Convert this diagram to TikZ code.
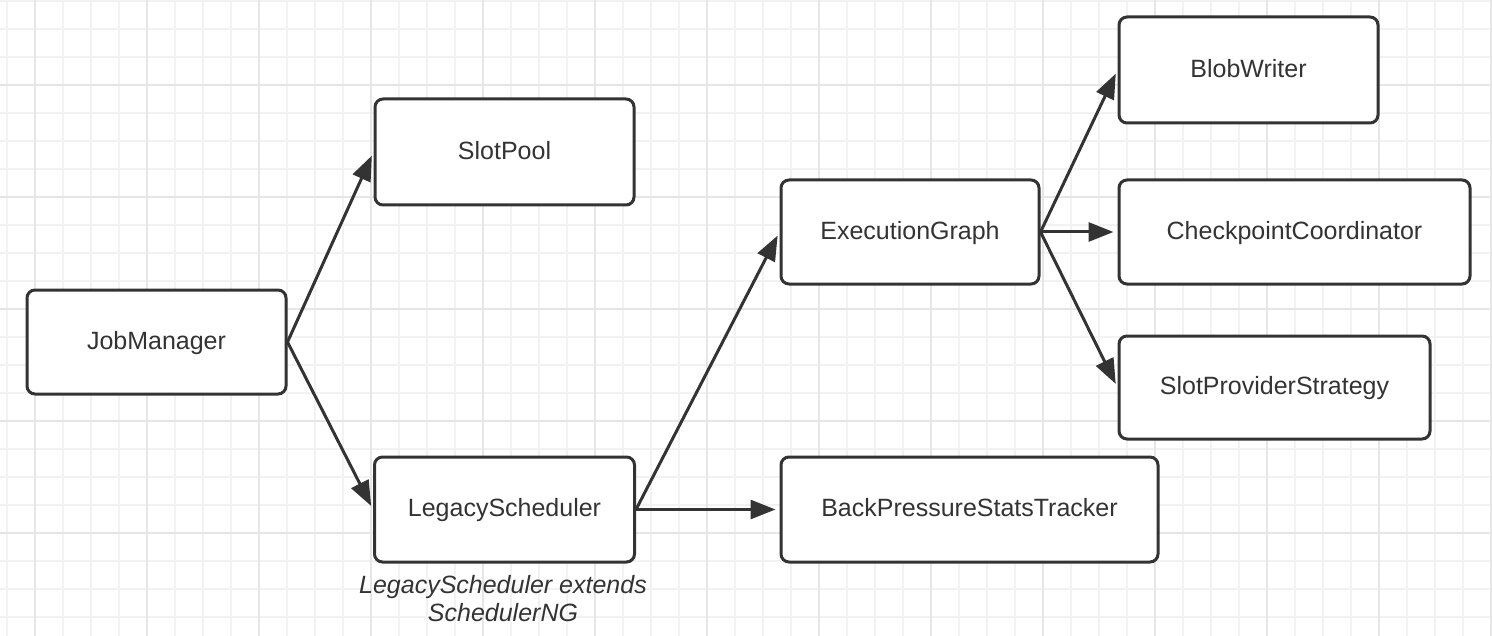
\documentclass[tikz,border=0pt]{standalone}
\usepackage{fontspec}
\setmainfont{Liberation Sans}
\usetikzlibrary{arrows.meta}
\definecolor{ink}{HTML}{333333}
\definecolor{gridminor}{HTML}{F2F2F2}
\definecolor{gridmajor}{HTML}{E6E6E6}
\begin{document}
\begin{tikzpicture}[x=0.5pt,y=-0.5pt,
  box/.style={draw=ink,line width=1.5pt,rounded corners=4pt,fill=white,
    text=ink,font=\fontsize{12.5pt}{14pt}\selectfont,inner sep=0pt,
    text height=0.716em,text depth=0pt},
  conn/.style={draw=ink,line width=1.5pt,shorten >=2pt,
    -{Triangle[length=12.5pt,width=9.5pt]}},
  note/.style={text=ink,font=\fontsize{12.5pt}{14pt}\selectfont\itshape,align=center}]
\useasboundingbox (0,0) rectangle (1492,636);
\fill[white] (0,0) rectangle (1492,636);
% grid
\foreach \k in {0,...,53} {\draw[gridminor,line width=1pt] (7+28*\k,0) -- (7+28*\k,636);}
\foreach \k in {0,...,22} {\draw[gridminor,line width=1pt] (0,1+28*\k) -- (1492,1+28*\k);}
\foreach \k in {0,...,13} {\draw[gridmajor,line width=1pt] (35+112*\k,0) -- (35+112*\k,636);}
\foreach \k in {0,...,4} {\draw[gridmajor,line width=1pt] (0,85+112*\k) -- (1492,85+112*\k);}
% nodes
\node[box,minimum width=129.5pt,minimum height=52pt] (jm) at (156.5,342) {JobManager};
\node[box,minimum width=129.5pt,minimum height=53pt] (sp) at (504.5,152) {SlotPool};
\node[box,minimum width=130pt,minimum height=52.5pt] (ls) at (504.5,509.5) {LegacyScheduler};
\node[box,minimum width=129pt,minimum height=52pt] (eg) at (910,232) {ExecutionGraph};
\node[box,minimum width=188.5pt,minimum height=52.5pt] (bp) at (969.5,509.5) {BackPressureStatsTracker};
\node[box,minimum width=129.5pt,minimum height=53pt] (bw) at (1248.5,70) {BlobWriter};
\node[box,minimum width=175.5pt,minimum height=52pt] (cc) at (1294.5,232) {CheckpointCoordinator};
\node[box,minimum width=155.5pt,minimum height=51.5pt] (sps) at (1274.5,387.5) {SlotProviderStrategy};
\node[note] (nt) at (503,599) {LegacyScheduler extends\\SchedulerNG};
% connectors
\draw[conn] (jm.east) -- (sp.west);
\draw[conn] (jm.east) -- (ls.west);
\draw[conn] (ls.east) -- (eg.west);
\draw[conn] (ls.east) -- (bp.west);
\draw[conn] (eg.east) -- (bw.west);
\draw[conn] (eg.east) -- (cc.west);
\draw[conn] (eg.east) -- (sps.west);
\end{tikzpicture}
\end{document}
